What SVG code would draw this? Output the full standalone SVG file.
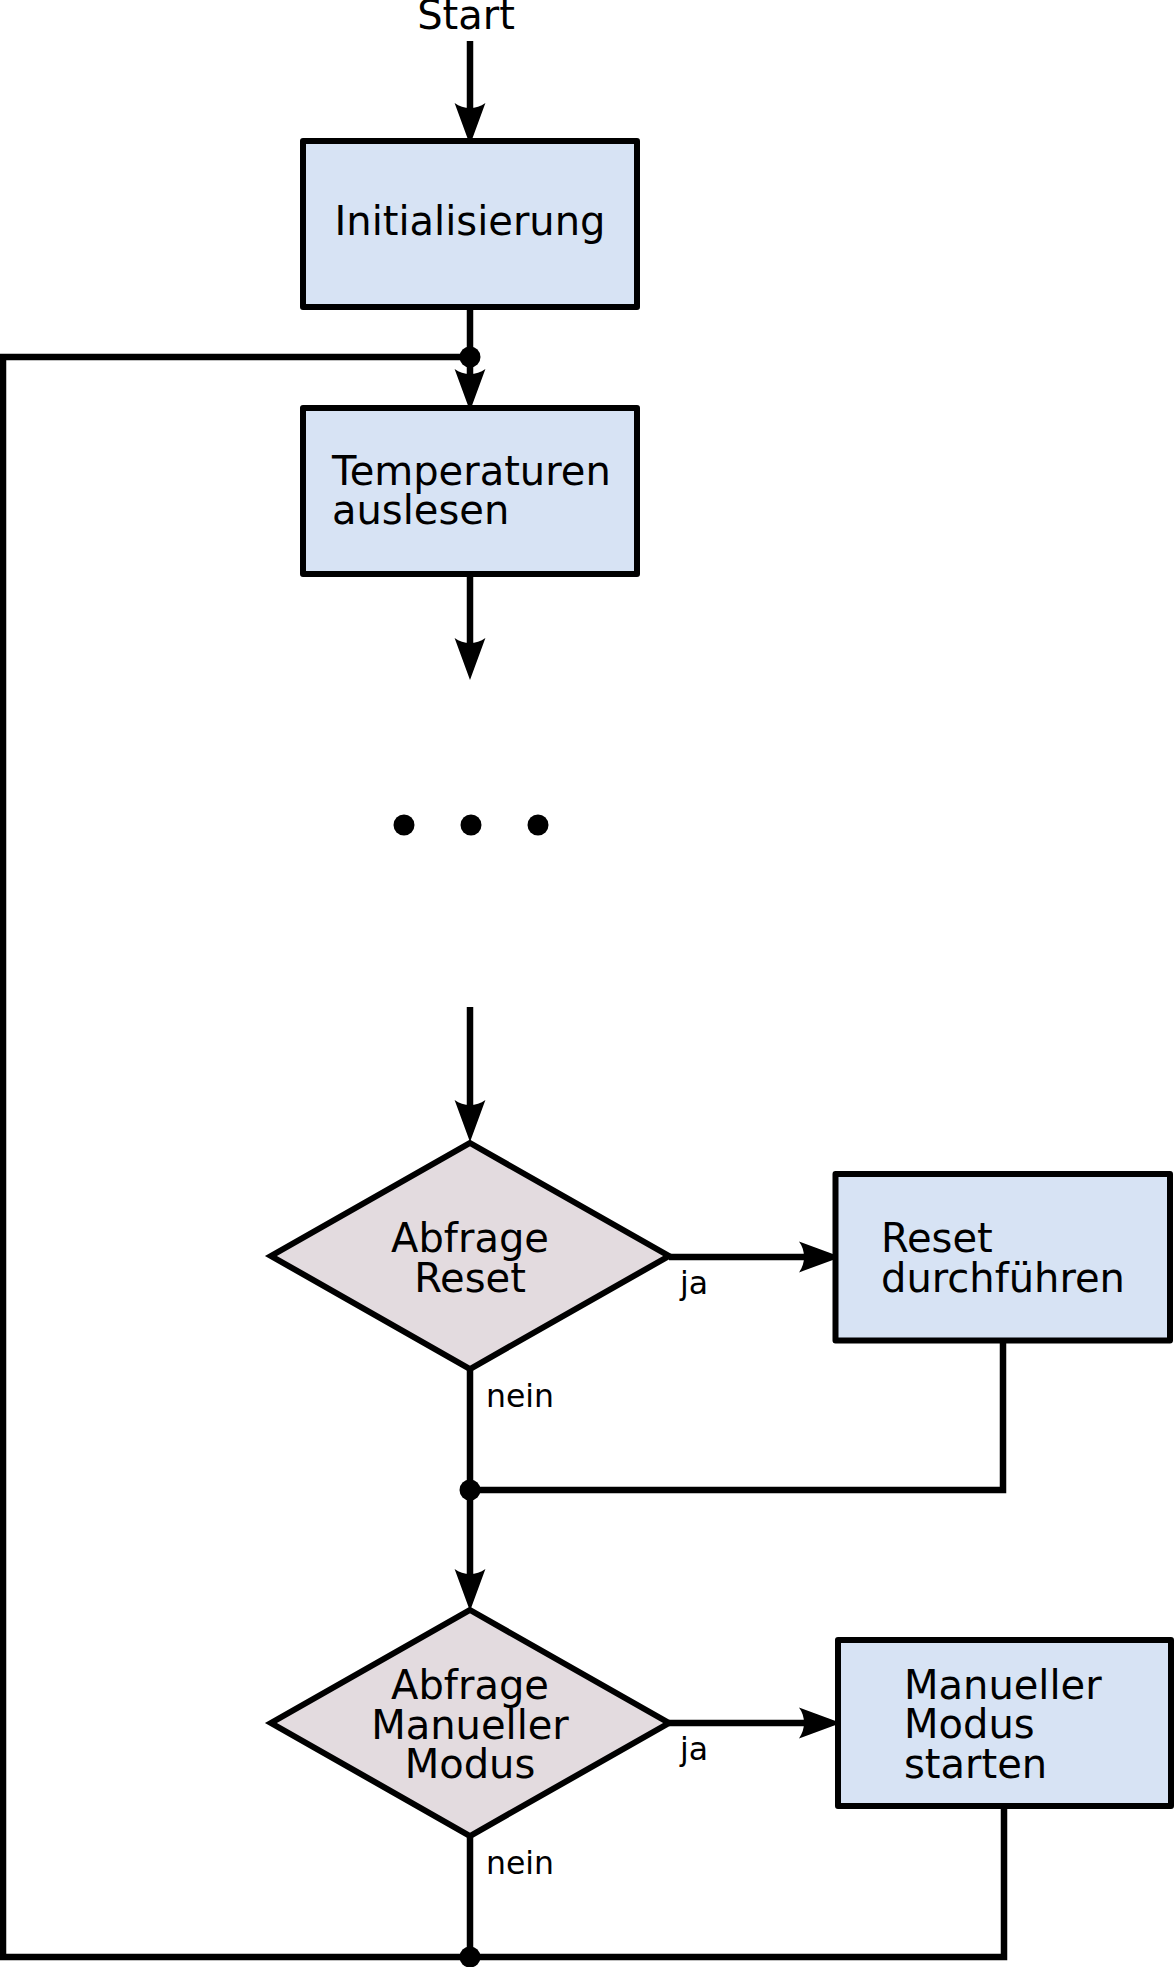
<svg xmlns="http://www.w3.org/2000/svg" width="1174" height="1967" viewBox="0 0 1174 1967">
  <style>
    .box { fill: #d7e3f4; stroke: #000; stroke-width: 6; stroke-linejoin: round; }
    .dia { fill: #e3dbdf; stroke: #000; stroke-width: 6; stroke-linejoin: miter; }
    .ln { fill: none; stroke: #000; stroke-width: 6.5; stroke-linejoin: miter; }
    .arr { marker-end: url(#ah); }
    .t { font-family: "DejaVu Sans", sans-serif; font-size: 40px; fill: #000; }
    .c { text-anchor: middle; }
    .lbl { font-family: "DejaVu Sans", sans-serif; font-size: 31.5px; fill: #000; }
  </style>
  <defs>
    <marker id="ah" markerUnits="userSpaceOnUse" orient="auto" refX="0" refY="0" markerWidth="60" markerHeight="40" overflow="visible">
      <path d="M -5,-15.4 L 37,0 L -5,15.4 C 1.7,6.3 1.7,-6.3 -5,-15.4 Z" fill="#000"/>
    </marker>
  </defs>

  <g id="connectors">
    <line class="ln arr" x1="470" y1="41" x2="470" y2="108"/>
    <line class="ln arr" x1="470" y1="306" x2="470" y2="374"/>
    <line class="ln arr" x1="470" y1="574" x2="470" y2="643"/>
    <line class="ln arr" x1="470" y1="1007" x2="470" y2="1105"/>
    <line class="ln arr" x1="669" y1="1257" x2="804" y2="1257"/>
    <line class="ln arr" x1="470" y1="1369" x2="470" y2="1574"/>
    <polyline class="ln" points="1003,1340 1003,1490 470,1490"/>
    <line class="ln arr" x1="669" y1="1723" x2="804" y2="1723"/>
    <line class="ln" x1="470" y1="1836" x2="470" y2="1957"/>
    <polyline class="ln" points="1004,1806 1004,1957 3,1957 3,357 470,357"/>
    <circle cx="470" cy="357" r="10.5" fill="#000"/>
    <circle cx="470" cy="1490" r="10.5" fill="#000"/>
    <circle cx="470" cy="1957" r="10.5" fill="#000"/>
    <text class="lbl" x="680" y="1294">ja</text>
    <text class="lbl" x="486" y="1407">nein</text>
    <text class="lbl" x="680" y="1760">ja</text>
    <text class="lbl" x="486" y="1874">nein</text>
  </g>

  <g id="start">
    <text class="t c" x="466" y="29">Start</text>
  </g>

  <g id="init">
    <rect class="box" x="303" y="141" width="334" height="166"/>
    <text class="t c" x="470" y="235">Initialisierung</text>
  </g>

  <g id="temp">
    <rect class="box" x="303" y="408" width="334" height="166"/>
    <text class="t" x="332" y="485">Temperaturen</text>
    <text class="t" x="332" y="524">auslesen</text>
  </g>

  <g id="ellipsis">
    <circle cx="404" cy="825" r="10.5" fill="#000"/>
    <circle cx="471" cy="825" r="10.5" fill="#000"/>
    <circle cx="538" cy="825" r="10.5" fill="#000"/>
  </g>

  <g id="reset-query">
    <polygon class="dia" points="470,1143 669,1256 470,1369 271,1256"/>
    <text class="t c" x="470" y="1252">Abfrage</text>
    <text class="t c" x="470" y="1292">Reset</text>
  </g>

  <g id="reset-do">
    <rect class="box" x="835.5" y="1174" width="334.5" height="166.5"/>
    <text class="t" x="881" y="1252">Reset</text>
    <text class="t" x="881" y="1292">durchführen</text>
  </g>

  <g id="manual-query">
    <polygon class="dia" points="470,1610 669,1723 470,1836 271,1723"/>
    <text class="t c" x="470" y="1699">Abfrage</text>
    <text class="t c" x="470" y="1739">Manueller</text>
    <text class="t c" x="470" y="1778">Modus</text>
  </g>

  <g id="manual-start">
    <rect class="box" x="838" y="1640" width="333" height="166"/>
    <text class="t" x="904" y="1698.5">Manueller</text>
    <text class="t" x="904" y="1738">Modus</text>
    <text class="t" x="904" y="1777.5">starten</text>
  </g>
</svg>
